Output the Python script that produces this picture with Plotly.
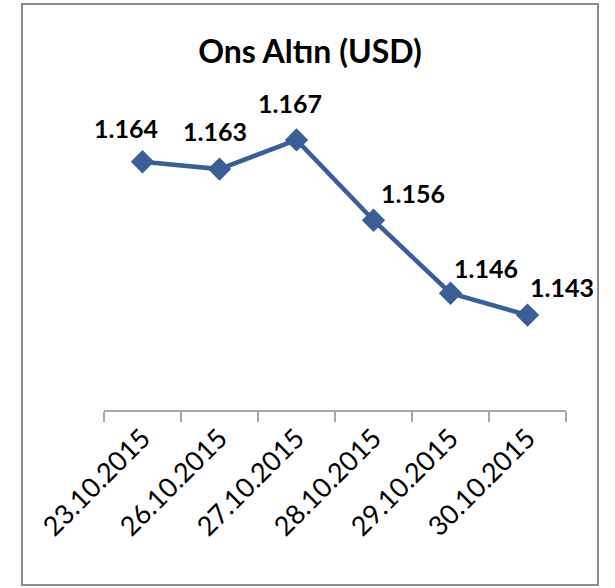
import plotly.graph_objects as go

dates = ["23.10.2015", "26.10.2015", "27.10.2015", "28.10.2015", "29.10.2015", "30.10.2015"]
values = [1.164, 1.163, 1.167, 1.156, 1.146, 1.143]
labels = ["1.164", "1.163", "1.167", "1.156", "1.146", "1.143"]

# label offsets in pixels (layout only)
label_dx = [-17, -5, -7, 39, 35, 34]
label_dy = [34, 38, 37, 27, 25, 28]

W, H = 615, 588
L, R, T, B = 104, 49, 118, 178
pw, ph = W - L - R, H - T - B

LINE = "#3A5F96"
FONT = "Lato, 'Open Sans', sans-serif"

fig = go.Figure()
fig.add_trace(go.Scatter(
    x=dates, y=values, mode="lines+markers",
    line=dict(color=LINE, width=4.5),
    marker=dict(symbol="diamond", size=18, color=LINE),
    hoverinfo="skip", showlegend=False,
))

for d, v, t, dx, dy in zip(dates, values, labels, label_dx, label_dy):
    fig.add_annotation(x=d, y=v, text=t, showarrow=False, xshift=dx, yshift=dy,
                       font=dict(family=FONT, size=25, color="#000000", weight="bold"))

def px_x(p):
    return (p - L) / pw

def px_y(p):
    return (H - B - p) / ph

fig.add_shape(type="rect", xref="paper", yref="paper",
              x0=px_x(22), x1=px_x(598), y0=px_y(585), y1=px_y(4),
              line=dict(color="#8c8c8c", width=2), fillcolor="rgba(0,0,0,0)", layer="below")

fig.update_layout(
    width=W, height=H,
    margin=dict(l=L, r=R, t=T, b=B, autoexpand=False),
    paper_bgcolor="white", plot_bgcolor="white",
    title=dict(text="Ons Altın (USD)", x=(310) / W, xanchor="center",
               y=1 - 52 / H, yanchor="middle",
               font=dict(family=FONT, size=32, color="#000000", weight="bold")),
    xaxis=dict(type="category", range=[-0.5, 5.5], showgrid=False, zeroline=False,
               automargin=False,
               showline=True, linecolor="#a6a6a6", linewidth=1.5,
               ticks="outside", ticklen=10, tickcolor="#a6a6a6", tickwidth=1.5,
               tickson="boundaries", tickangle=-45,
               tickfont=dict(family=FONT, size=27, color="#000000")),
    yaxis=dict(visible=False, range=[1.130, 1.170], automargin=False),
)

fig.write_html("out.html", config={"displayModeBar": False},
               post_script="document.body.style.margin='0';")
